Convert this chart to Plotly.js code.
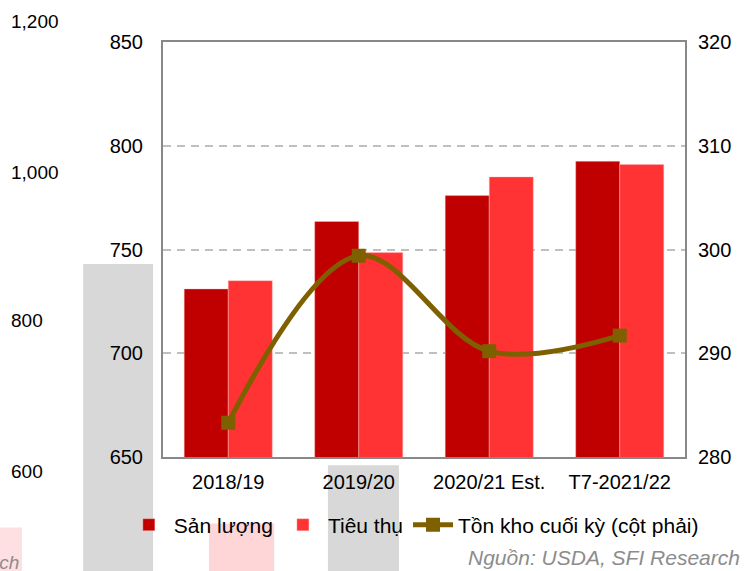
<!DOCTYPE html>
<html>
<head>
<meta charset="utf-8">
<script src="https://cdn.plot.ly/plotly-3.0.1.min.js"></script>
<style>html,body{margin:0;padding:0;background:#fff;}#chart{width:752px;height:571px;}</style>
</head>
<body>
<div id="chart"></div>
<script>
var categories = ["2018/19", "2019/20", "2020/21 Est.", "T7-2021/22"];
var sanLuong = [731, 763.5, 776, 792.5];
var tieuThu = [735, 748.5, 785, 791];
var tonKho = [283.3, 299.4, 290.2, 291.7];
var leftTicks = [650, 700, 750, 800, 850];
var rightTicks = [280, 290, 300, 310, 320];
var strayLabels = ["1,200", "1,000", "800", "600"];

var fontFam = "Liberation Sans, Arial, sans-serif";

var traces = [
  {type: "bar", name: "Sản lượng", x: categories, y: sanLuong,
   marker: {color: "#C00000", line: {color: "rgba(255,190,190,0.7)", width: 0.6}}},
  {type: "bar", name: "Tiêu thụ", x: categories, y: tieuThu,
   marker: {color: "#FF3333", line: {color: "rgba(255,190,190,0.7)", width: 0.6}}},
  {type: "scatter", mode: "lines+markers", name: "Tồn kho cuối kỳ (cột phải)",
   x: categories, y: tonKho, yaxis: "y2",
   line: {color: "#7F6000", width: 5, shape: "spline", smoothing: 1},
   marker: {symbol: "square", size: 14, color: "#7F6000"}}
];

var annotations = [];
var strayY = [1.05, 0.686, 0.328, -0.036];
for (var i = 0; i < strayLabels.length; i++) {
  annotations.push({xref: "paper", yref: "paper", x: -0.295, y: strayY[i], xanchor: "left", yanchor: "middle",
    text: strayLabels[i], showarrow: false, font: {family: fontFam, size: 19, color: "#000"}});
}
annotations.push({xref: "paper", yref: "paper", x: 1.11, y: -0.243, xanchor: "right", yanchor: "middle",
  text: "<i>Nguồn: USDA, SFI Research</i>", showarrow: false, font: {family: fontFam, size: 21, color: "#8C8C8C"}});
annotations.push({xref: "paper", yref: "paper", x: -0.33, y: -0.255, xanchor: "left", yanchor: "middle",
  text: "<i>rch</i>", showarrow: false, font: {family: fontFam, size: 19, color: "#8C8C8C"}});

var shapes = [
  {type: "rect", xref: "paper", yref: "paper", x0: -0.153, x1: -0.019, y0: -0.3, y1: 0.465, layer: "below",
   fillcolor: "#D8D8D8", line: {width: 0}},
  {type: "rect", xref: "paper", yref: "paper", x0: 0.316, x1: 0.452, y0: -0.3, y1: -0.02, layer: "below",
   fillcolor: "#D8D8D8", line: {width: 0}},
  {type: "rect", xref: "paper", yref: "paper", x0: 0.088, x1: 0.213, y0: -0.3, y1: -0.16, layer: "below",
   fillcolor: "#FFD6D8", line: {width: 0}},
  {type: "rect", xref: "paper", yref: "paper", x0: -0.33, x1: -0.27, y0: -0.3, y1: -0.17, layer: "below",
   fillcolor: "#FFE0E2", line: {width: 0}}
];

var layout = {
  width: 752, height: 571,
  margin: {l: 163, r: 67, t: 42, b: 114, autoexpand: false},
  paper_bgcolor: "rgba(0,0,0,0)",
  plot_bgcolor: "rgba(0,0,0,0)",
  barmode: "group", bargap: 0.325, bargroupgap: 0,
  font: {family: fontFam, size: 20, color: "#000"},
  showlegend: true,
  legend: {orientation: "h", xref: "paper", x: -0.075, xanchor: "left",
    yref: "paper", y: -0.164, yanchor: "middle", bgcolor: "rgba(0,0,0,0)",
    font: {family: fontFam, size: 21, color: "#000"}, itemwidth: 40, tracegroupgap: 0},
  xaxis: {showline: true, linecolor: "#888", linewidth: 2, mirror: true, ticks: "",
    tickfont: {family: fontFam, size: 20}, ticklabelstandoff: 6},
  yaxis: {range: [650, 850], tickvals: leftTicks, ticktext: leftTicks.map(String),
    showgrid: true, gridcolor: "#BFBFBF", griddash: "8px,6px", gridwidth: 2,
    showline: true, linecolor: "#888", linewidth: 2, mirror: true, ticks: "",
    tickfont: {family: fontFam, size: 20}, zeroline: false, ticklabelstandoff: 14},
  yaxis2: {range: [280, 320], tickvals: rightTicks, overlaying: "y", side: "right",
    showgrid: false, zeroline: false, showline: false, ticks: "",
    tickfont: {family: fontFam, size: 20}, ticklabelstandoff: 12},
  annotations: annotations,
  shapes: shapes
};

Plotly.newPlot("chart", traces, layout, {displayModeBar: false, staticPlot: true});
</script>
</body>
</html>
